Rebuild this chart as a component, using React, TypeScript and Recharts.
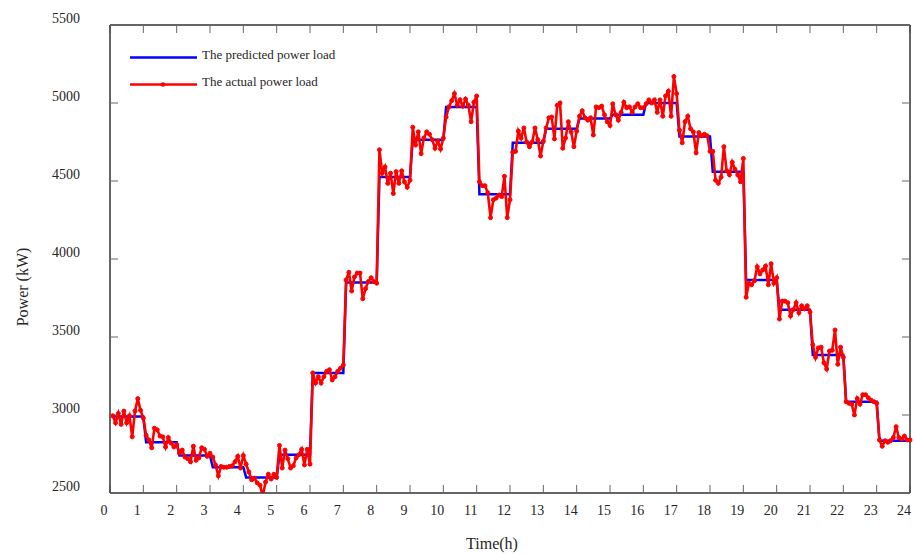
import { LineChart, Line, XAxis, YAxis, Legend, ReferenceArea } from 'recharts';

const FONT = '"Liberation Serif", "Times New Roman", serif';
const TEXT = '#262626';

if (typeof document !== 'undefined') document.body.style.margin = '0';

// tick labels
const hourTicks = [0, 1, 2, 3, 4, 5, 6, 7, 8, 9, 10, 11, 12, 13, 14, 15, 16, 17, 18, 19, 20, 21, 22, 23, 24];
const powerTicks = [2500, 3000, 3500, 4000, 4500, 5000, 5500];

// hourly forecast (kW), one value per hour
const predictedByHour = [
  2990, 2825, 2740, 2665, 2600, 2745, 3270, 3850, 4525, 4765, 4975, 4415,
  4745, 4835, 4900, 4925, 5000, 4785, 4560, 3865, 3675, 3385, 3085, 2835,
];

// measured load (kW), 5-minute samples, one row per hour
const actualByHour = [
  [2995, 2950, 3010, 2940, 3025, 2950, 2995, 2860, 3025, 3105, 3030, 2980],
  [2870, 2840, 2790, 2915, 2905, 2865, 2860, 2795, 2855, 2820, 2795, 2810],
  [2755, 2775, 2730, 2720, 2700, 2800, 2710, 2725, 2790, 2780, 2735, 2755],
  [2730, 2680, 2610, 2670, 2665, 2665, 2670, 2675, 2700, 2735, 2660, 2740],
  [2685, 2635, 2585, 2595, 2565, 2550, 2480, 2570, 2620, 2590, 2620, 2600],
  [2805, 2660, 2775, 2720, 2660, 2675, 2725, 2745, 2780, 2680, 2780, 2685],
  [3270, 3205, 3245, 3205, 3245, 3280, 3290, 3225, 3245, 3280, 3300, 3320],
  [3865, 3915, 3795, 3885, 3910, 3910, 3745, 3810, 3855, 3880, 3855, 3845],
  [4700, 4550, 4590, 4485, 4550, 4420, 4560, 4485, 4565, 4495, 4460, 4505],
  [4845, 4730, 4815, 4675, 4775, 4815, 4800, 4765, 4710, 4755, 4705, 4775],
  [4910, 4975, 5015, 5060, 4985, 5020, 4980, 5025, 4985, 4880, 5005, 5045],
  [4495, 4470, 4470, 4425, 4265, 4380, 4390, 4410, 4400, 4530, 4265, 4380],
  [4685, 4690, 4820, 4775, 4840, 4750, 4720, 4750, 4840, 4765, 4660, 4755],
  [4840, 4905, 4910, 4770, 4985, 5000, 4710, 4775, 4880, 4815, 4720, 4820],
  [4915, 4950, 4905, 4890, 4905, 4795, 4975, 4970, 4980, 4925, 4880, 4855],
  [4995, 4925, 4890, 4940, 5005, 4970, 4975, 4940, 4975, 4995, 4970, 4970],
  [4995, 5020, 5000, 5020, 4940, 5020, 4915, 5045, 5075, 4915, 5170, 5060],
  [4825, 4745, 4880, 4915, 4835, 4815, 4680, 4810, 4790, 4800, 4790, 4690],
  [4690, 4505, 4485, 4525, 4720, 4565, 4540, 4620, 4575, 4540, 4495, 4645],
  [3755, 3845, 3835, 3860, 3950, 3905, 3930, 3955, 3835, 3970, 3845, 3880],
  [3615, 3730, 3730, 3720, 3635, 3675, 3720, 3655, 3700, 3680, 3700, 3660],
  [3450, 3370, 3430, 3435, 3335, 3295, 3410, 3415, 3545, 3325, 3435, 3370],
  [3085, 3075, 3070, 3000, 3105, 3070, 3130, 3130, 3110, 3095, 3085, 3075],
  [2840, 2800, 2835, 2825, 2835, 2855, 2925, 2855, 2845, 2865, 2840, 2840],
];

const samplesPerHour = 12;

const data: { t: number; predicted: number; actual: number }[] = [];
predictedByHour.forEach((pred, h) => {
  actualByHour[h].forEach((actual, k) => {
    data.push({ t: h + (k + 1) / samplesPerHour, predicted: pred, actual });
  });
});

const XTick = ({ x, y, payload }: any) => (
  <text x={x - 6} y={y} dy="0.71em" textAnchor="middle" fontSize={14} fill={TEXT} fontFamily={FONT}>
    {payload.value}
  </text>
);

const YTick = ({ x, y, payload }: any) => (
  <text x={x} y={y - 7} dy="0.35em" textAnchor="end" fontSize={14} fill={TEXT} fontFamily={FONT}>
    {payload.value}
  </text>
);

// mirrored axes: tick marks only
const NoLabel = () => <g />;

const legendItems = [
  { label: 'The predicted power load', color: '#0000ff', dot: false },
  { label: 'The actual power load', color: '#ff0000', dot: true },
];

const LegendBox = () => (
  <div style={{ fontFamily: FONT, fontSize: 13, color: TEXT }}>
    {legendItems.map((item) => (
      <div key={item.label} style={{ display: 'flex', alignItems: 'center', height: 27 }}>
        <svg width={74} height={27}>
          <line x1={2} x2={69} y1={13.5} y2={13.5} stroke={item.color} strokeWidth={2.5} />
          {item.dot && <circle cx={35} cy={13.5} r={2.2} fill={item.color} />}
        </svg>
        <span style={{ position: 'relative', top: -3, whiteSpace: 'nowrap' }}>{item.label}</span>
      </div>
    ))}
  </div>
);

export default function App() {
  return (
    <div style={{ width: 915, height: 554, background: '#fff' }}>
      <LineChart width={915} height={554} data={data} margin={{ top: 15, right: 0, bottom: 31, left: 50 }}>
        <XAxis
          dataKey="t"
          type="number"
          domain={[0, 24]}
          ticks={hourTicks}
          interval={0}
          height={30}
          tickSize={-8}
          tickMargin={20}
          tick={<XTick />}
          axisLine={{ stroke: '#333' }}
          tickLine={{ stroke: '#666' }}
          label={{
            content: ({ viewBox }: any) => (
              <text
                x={viewBox.x + viewBox.width / 2 - 18}
                y={viewBox.y + 50}
                dy="0.35em"
                textAnchor="middle"
                fontSize={16}
                fill={TEXT}
                fontFamily={FONT}
              >
                Time(h)
              </text>
            ),
          }}
        />
        <XAxis
          xAxisId="top"
          dataKey="t"
          orientation="top"
          type="number"
          domain={[0, 24]}
          ticks={hourTicks}
          interval={0}
          height={10}
          tickSize={-8}
          tick={<NoLabel />}
          allowDataOverflow
          axisLine={{ stroke: '#333' }}
          tickLine={{ stroke: '#666' }}
        />
        <YAxis
          type="number"
          domain={[2500, 5500]}
          ticks={powerTicks}
          interval={0}
          allowDataOverflow
          width={60}
          tickSize={-8}
          tickMargin={38}
          tick={<YTick />}
          axisLine={{ stroke: '#333' }}
          tickLine={{ stroke: '#666' }}
          label={{
            content: ({ viewBox }: any) => {
              const cx = viewBox.x - 28;
              const cy = viewBox.y + viewBox.height / 2 + 28;
              return (
                <text
                  x={cx}
                  y={cy}
                  dy="0.35em"
                  textAnchor="middle"
                  fontSize={16}
                  fill={TEXT}
                  fontFamily={FONT}
                  transform={`rotate(-90 ${cx} ${cy})`}
                >
                  Power (kW)
                </text>
              );
            },
          }}
        />
        <YAxis
          yAxisId="right"
          orientation="right"
          type="number"
          domain={[2500, 5500]}
          ticks={powerTicks}
          interval={0}
          allowDataOverflow
          width={5}
          tickSize={-8}
          tick={<NoLabel />}
          axisLine={{ stroke: '#333' }}
          tickLine={{ stroke: '#666' }}
        />
        {/* frame around the plot area */}
        <ReferenceArea x1={0} x2={24} y1={2500} y2={5500} fill="none" stroke="#333" strokeWidth={1} ifOverflow="visible" />
        <Legend
          content={<LegendBox />}
          layout="horizontal"
          verticalAlign="middle"
          align="center"
          wrapperStyle={{ left: 128, top: 44, width: 'auto' }}
        />
        {/* invisible series so the mirrored top/right axes get a scale */}
        <Line
          xAxisId="top"
          yAxisId="right"
          type="linear"
          dataKey="predicted"
          stroke="none"
          dot={false}
          activeDot={false}
          legendType="none"
          isAnimationActive={false}
        />
        <Line
          type="linear"
          dataKey="predicted"
          stroke="#0000ff"
          strokeWidth={2.5}
          dot={false}
          isAnimationActive={false}
        />
        <Line
          type="linear"
          dataKey="actual"
          stroke="#ff0000"
          strokeWidth={2.6}
          dot={{ r: 2, fill: '#ff0000', stroke: '#ff0000', strokeWidth: 1 }}
          isAnimationActive={false}
        />
      </LineChart>
    </div>
  );
}
